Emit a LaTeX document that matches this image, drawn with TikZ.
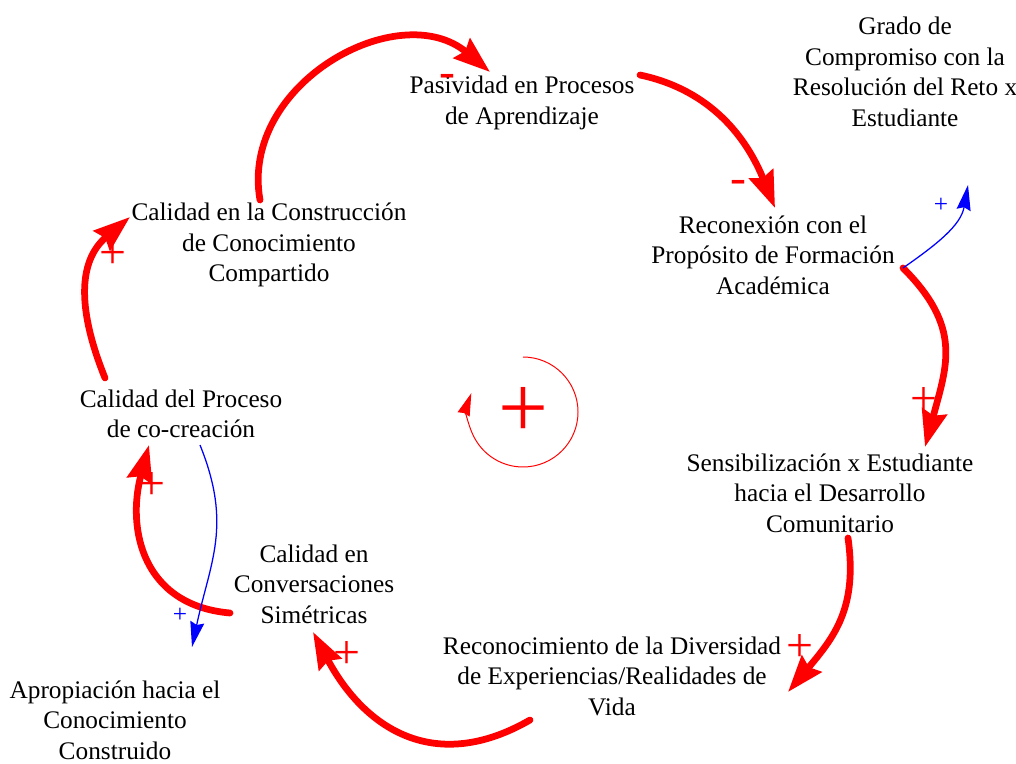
\documentclass[tikz,border=0pt]{standalone}
\usepackage{fontspec}
\setmainfont{Liberation Serif}
\usetikzlibrary{arrows.meta}

\begin{document}
\begin{tikzpicture}[x=0.025cm,y=0.025cm,
    var/.style={align=center,inner sep=0pt,font=\fontsize{18}{21.7}\selectfont},
    link/.style={draw=\LINKCOLOR,line width=4.8pt,line cap=round,
        -{Stealth[length=26pt,width=18pt,inset=3pt]}},
    sidelink/.style={draw=\SIDECOLOR,line width=0.9pt,
        -{Stealth[length=18pt,width=10pt,inset=2pt]}},
    pol/.style={text=\LINKCOLOR,inner sep=0pt,font=\fontsize{34}{36}\selectfont},
    sidepol/.style={text=\SIDECOLOR,inner sep=0pt,font=\fontsize{18}{20}\selectfont}]

\def\LINKCOLOR{red}
\def\SIDECOLOR{blue}
    \useasboundingbox (0,0) rectangle (1016,763);

    % variables
    \node[var] (pas) at (522,660) {Pasividad en Procesos\\de Aprendizaje};
    \node[var] (grado) at (905,691) {Grado de\\Compromiso con la\\Resolución del Reto x\\Estudiante};
    \node[var] (recon) at (773,508) {Reconexión con el\\Propósito de Formación\\Académica};
    \node[var] (calcon) at (269,518) {Calidad en la Construcción\\de Conocimiento\\Compartido};
    \node[var] (calproc) at (181,349) {Calidad del Proceso\\de co-creación};
    \node[var] (sens) at (830,270) {Sensibilización x Estudiante\\hacia el Desarrollo\\Comunitario};
    \node[var] (conv) at (314,179) {Calidad en\\Conversaciones\\Simétricas};
    \node[var] (recdiv) at (612,87) {Reconocimiento de la Diversidad\\de Experiencias/Realidades de\\Vida};
    \node[var] (apro) at (115,43) {Apropiación hacia el\\Conocimiento\\Construido};

    % main loop
    \draw[link] ([shift={(-9,45)}]calcon.center) to[out=100,in=140,looseness=1.15] ([shift={(-32,31)}]pas.center);
    \draw[link] ([shift={(118,28)}]pas.center) to[out=-12,in=112] ([shift={(2,47)}]recon.center);
    \draw[link] ([shift={(130,-13)}]recon.center) to[out=-45,in=75,looseness=1.2] ([shift={(95,46)}]sens.center);
    \draw[link] ([shift={(18,-45)}]sens.center) to[out=-82,in=50,looseness=1.1] ([shift={(176,-16)}]recdiv.center);
    \draw[link] ([shift={(-82,-44)}]recdiv.center) to[out=-150,in=-62,looseness=1.2] ([shift={(-1,-48)}]conv.center);
    \draw[link] ([shift={(-84,-29)}]conv.center) to[out=175,in=-105,looseness=1.2] ([shift={(-32,-31)}]calproc.center);
    \draw[link] ([shift={(-76,36)}]calproc.center) to[out=112,in=-140,looseness=1.1] ([shift={(-139,28)}]calcon.center);

    % side links
    \draw[sidelink] ([shift={(130,-13)}]recon.center) to[out=35,in=-100] ([shift={(63,-113)}]grado.center);
    \draw[sidelink] ([shift={(19,-31)}]calproc.center) to[out=-68,in=78,looseness=1.1] ([shift={(77,73)}]apro.center);

    % polarities
    \node[pol] (p1) at (447,682) {-};
    \node[pol] (p2) at (738,576) {-};
    \node[pol] (p3) at (924,362) {+};
    \node[pol] (p4) at (800,115) {+};
    \node[pol] (p5) at (347,108) {+};
    \node[pol] (p6) at (152,277) {+};
    \node[pol] (p7) at (113,508) {+};
    \node[sidepol] (s1) at (941,558) {+};
    \node[sidepol] (s2) at (180,148) {+};

    % loop marker
    \node[text=\LINKCOLOR,inner sep=0pt,font=\fontsize{63}{63}\selectfont] (loopsign) at (523,351) {+};
    \draw[\LINKCOLOR,line width=0.7pt,-{Stealth[length=16pt,width=9pt,inset=1pt]}]
        ([shift={(0,55)}]loopsign.center) arc[start angle=90,end angle=-200,radius=55];

          \end{tikzpicture}
\end{document}
